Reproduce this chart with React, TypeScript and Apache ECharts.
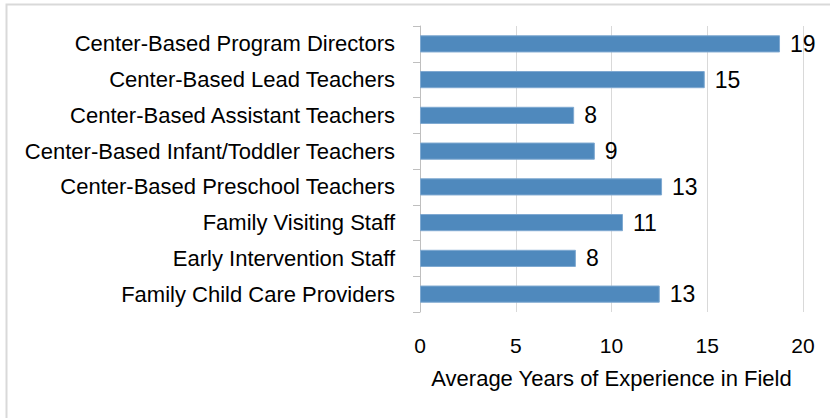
import React, { useEffect, useRef } from "react";
import * as echarts from "echarts";

const categories = [
  "Center-Based Program Directors",
  "Center-Based Lead Teachers",
  "Center-Based Assistant Teachers",
  "Center-Based Infant/Toddler Teachers",
  "Center-Based Preschool Teachers",
  "Family Visiting Staff",
  "Early Intervention Staff",
  "Family Child Care Providers",
];
const values = [18.8, 14.87, 8.05, 9.13, 12.64, 10.6, 8.14, 12.52];
const xTicks = [0, 5, 10, 15, 20];
const xTitle = "Average Years of Experience in Field";

const FONT = "'Liberation Sans', Arial, sans-serif";

export default function App() {
  const ref = useRef<HTMLDivElement>(null);
  useEffect(() => {
    document.body.style.margin = "0";
    if (!ref.current) return;
    const chart = echarts.init(ref.current, undefined, { renderer: "svg" });
    chart.setOption({
      animation: false,
      backgroundColor: "#ffffff",
      graphic: [
        {
          type: "rect",
          shape: { x: 6.5, y: 4.5, width: 900, height: 500 },
          style: { fill: "none", stroke: "#d9d9d9", lineWidth: 2 },
          silent: true,
        },
      ],
      grid: { left: 420, right: 27, top: 26, height: 286, outerBoundsMode: "none", containLabel: false },
      xAxis: {
        type: "value",
        min: xTicks[0],
        max: xTicks[xTicks.length - 1],
        interval: 5,
        name: xTitle,
        nameLocation: "middle",
        nameGap: 55,
        nameTextStyle: { fontFamily: FONT, fontSize: 22, color: "#000" },
        axisLine: { show: false },
        axisTick: { show: false },
        axisLabel: { fontFamily: FONT, fontSize: 21, color: "#000", margin: 23 },
        splitLine: { show: true, lineStyle: { color: "#d9d9d9", width: 1 } },
      },
      yAxis: {
        type: "category",
        data: categories,
        inverse: true,
        axisLine: { show: true, lineStyle: { color: "#bfbfbf", width: 1 } },
        axisTick: { show: true, length: 7, lineStyle: { color: "#bfbfbf" } },
        axisLabel: { fontFamily: FONT, fontSize: 22, color: "#000", margin: 25 },
      },
      series: [
        {
          type: "bar",
          data: values,
          barWidth: "48%",
          itemStyle: { color: "#4f89bd", borderColor: "#7fa9d1", borderWidth: 1 },
          label: {
            show: true,
            position: "right",
            distance: 10,
            fontFamily: FONT,
            fontSize: 23,
            color: "#000",
            formatter: (p: any) => String(Math.round(p.value)),
          },
        },
      ],
    });
    return () => chart.dispose();
  }, []);
  return <div ref={ref} style={{ width: 830, height: 418 }} />;
}
